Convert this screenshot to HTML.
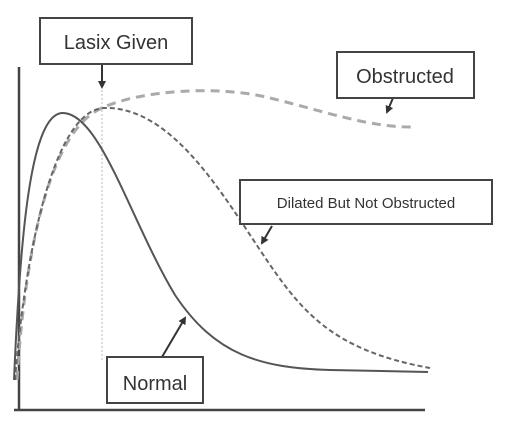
<!DOCTYPE html>
<html><head><style>body{margin:0;background:#fff}svg{display:block}</style></head><body>
<svg width="522" height="440" viewBox="0 0 522 440" xmlns="http://www.w3.org/2000/svg" font-family="Liberation Sans, sans-serif">
<defs><marker id="a" markerWidth="8" markerHeight="8" refX="6" refY="4" orient="auto" markerUnits="userSpaceOnUse"><path d="M0,0 L8,4 L0,8 z" fill="#333"/></marker></defs>
<line x1="19" y1="67" x2="19" y2="410" stroke="#444" stroke-width="2.5"/>
<line x1="14" y1="410" x2="425" y2="410" stroke="#444" stroke-width="2.5"/>
<line x1="102" y1="90" x2="102" y2="360" stroke="#bbb" stroke-width="1" stroke-dasharray="2,2"/>
<path d="M17,380 C25,250 50,130 102,108 C140,90 220,85 270,98 C320,110 370,128 414,127" fill="none" stroke="#aaa" stroke-width="3" stroke-dasharray="9,6"/>
<path d="M15,380 C25,250 55,110 104,108 C170,106 220,190 260,250 C300,310 330,350 430,368" fill="none" stroke="#666" stroke-width="2" stroke-dasharray="5,3"/>
<path d="M14,380 C20,240 30,115 62,113 C100,112 130,220 175,295 C215,355 260,368 330,370 L428,372" fill="none" stroke="#555" stroke-width="2"/>
<line x1="102" y1="64" x2="102" y2="87" stroke="#333" stroke-width="2" marker-end="url(#a)"/>
<line x1="393" y1="98" x2="387" y2="112" stroke="#333" stroke-width="2" marker-end="url(#a)"/>
<line x1="272" y1="226" x2="262" y2="243" stroke="#333" stroke-width="2" marker-end="url(#a)"/>
<line x1="162" y1="357" x2="185" y2="318" stroke="#333" stroke-width="2" marker-end="url(#a)"/>
<g fill="#fff" stroke="#444" stroke-width="2">
<rect x="40" y="18" width="152" height="46"/>
<rect x="337" y="52" width="137" height="46"/>
<rect x="240" y="180" width="252" height="44"/>
<rect x="107" y="357" width="96" height="46"/>
</g>
<g fill="#333" text-anchor="middle">
<text x="116" y="49" font-size="20">Lasix Given</text>
<text x="405" y="83" font-size="20">Obstructed</text>
<text x="366" y="208" font-size="15">Dilated But Not Obstructed</text>
<text x="155" y="390" font-size="20">Normal</text>
</g>
</svg>
</body></html>
